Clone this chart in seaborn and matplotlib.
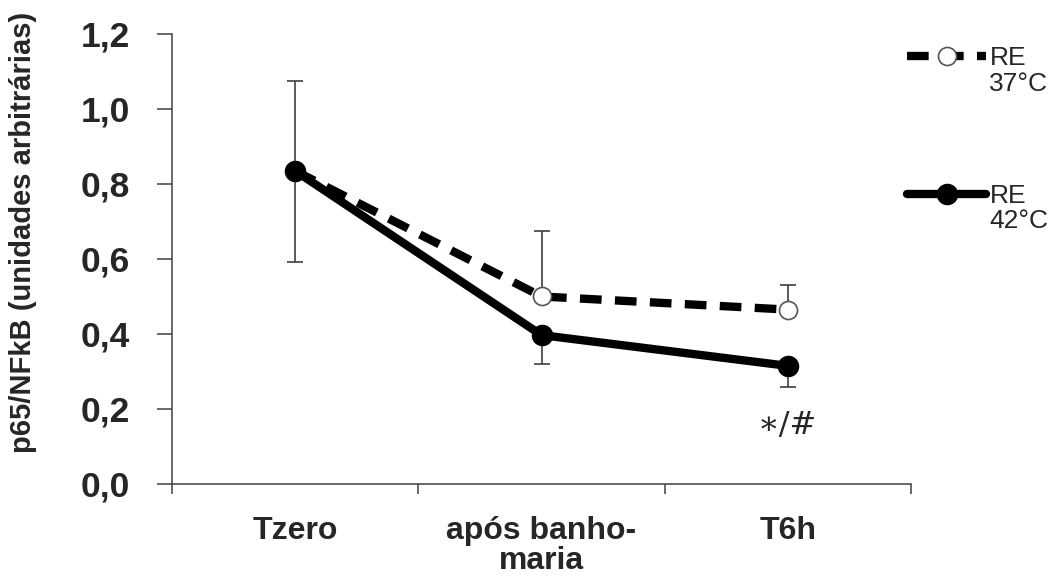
import numpy as np
import pandas as pd
import matplotlib
matplotlib.use("Agg")
import matplotlib.pyplot as plt
import seaborn as sns

# Time points and group summaries (mean with one-sided SD)
categories = ["Tzero", "após banho-\nmaria", "T6h"]
re37_mean = [0.835, 0.500, 0.465]
re37_sd_up = [0.240, 0.174, 0.065]
re42_mean = [0.835, 0.397, 0.315]
re42_sd_down = [0.243, 0.077, 0.056]
group_labels = ["RE", "RE"]
group_temps = ["37°C", "42°C"]
y_ticks = [0.0, 0.2, 0.4, 0.6, 0.8, 1.0, 1.2]
y_label = "p65/NFkB (unidades arbitrárias)"
significance = "∗/#"

sns.set_style("ticks")
plt.rcParams["font.family"] = ["Liberation Sans", "DejaVu Sans"]

pos = np.arange(len(categories))
df37 = pd.DataFrame({"pos": pos, "valor": re37_mean})
df42 = pd.DataFrame({"pos": pos, "valor": re42_mean})

fig = plt.figure(figsize=(10.6, 5.79), dpi=100)
ax = fig.add_axes([0.1623, 0.1641, 0.6971, 0.7772])

axis_grey = "#404040"

# error bars (one-sided): up for 37°C, down for 42°C
ax.errorbar(pos, re37_mean, yerr=[np.zeros(len(pos)), re37_sd_up], fmt="none",
            ecolor=axis_grey, elinewidth=1.2, capsize=5.5, capthick=1.2, zorder=1)
ax.errorbar(pos, re42_mean, yerr=[re42_sd_down, np.zeros(len(pos))], fmt="none",
            ecolor=axis_grey, elinewidth=1.2, capsize=5.5, capthick=1.2, zorder=1)

sns.lineplot(data=df37, x="pos", y="valor", ax=ax, color="black", linewidth=6,
             linestyle=(0, (2.6, 1.6)), marker="o", markersize=13,
             markerfacecolor="white", markeredgecolor="#555555",
             markeredgewidth=1.2, errorbar=None, zorder=3)
h37 = ax.lines[-1]
sns.lineplot(data=df42, x="pos", y="valor", ax=ax, color="black", linewidth=6,
             linestyle="-", marker="o", markersize=14.5,
             markerfacecolor="black", markeredgecolor="black",
             markeredgewidth=1.0, errorbar=None, zorder=4)
h42 = ax.lines[-1]

# axes
ax.set_xlim(-0.5, 2.5)
ax.set_ylim(0, 1.2)
ax.set_xticks(pos, categories)
ax.set_xticks([-0.5, 0.5, 1.5, 2.5], minor=True)
ax.tick_params(axis="x", which="major", length=0, pad=23, labelsize=23)
ax.tick_params(axis="x", which="minor", length=7, width=1.1, color=axis_grey,
               direction="out")
for t in ax.get_xticklabels():
    t.set_fontweight("bold")
    t.set_linespacing(1.0)

ax.set_yticks(y_ticks, [f"{v:.1f}".replace(".", ",") for v in y_ticks])
ax.tick_params(axis="y", length=11, width=1.1, color=axis_grey, direction="out",
               pad=19, labelsize=25.5)
for t in ax.get_yticklabels():
    t.set_fontweight("bold")

ax.set_xlabel("")
ax.set_ylabel(y_label, fontsize=21, fontweight="bold")
ax.yaxis.set_label_coords(-0.183, 0.56)

sns.despine(ax=ax)
for s in ("left", "bottom"):
    ax.spines[s].set_color(axis_grey)
    ax.spines[s].set_linewidth(1.1)

# significance marker at T6h
ax.text(pos[2], 0.155, significance, ha="center", va="center", fontsize=23,
        family=["DejaVu Serif", "DejaVu Sans"])

# legend outside on the right
leg = ax.legend(handles=[h37, h42], labels=group_labels, loc="upper left",
                bbox_to_anchor=(0.8557, 0.92), bbox_transform=fig.transFigure,
                frameon=False, borderpad=0, borderaxespad=0, handlelength=3.0,
                handletextpad=0.12, labelspacing=4.3,
                prop={"family": "Liberation Sans", "size": 19})
for txt, temp in zip(leg.get_texts(), group_temps):
    ax.annotate(temp, xy=(0, 0), xycoords=txt, xytext=(0, -1),
                textcoords="offset points", ha="left", va="top", fontsize=19,
                annotation_clip=False, zorder=10)

fig.savefig("out.png", dpi=100)
